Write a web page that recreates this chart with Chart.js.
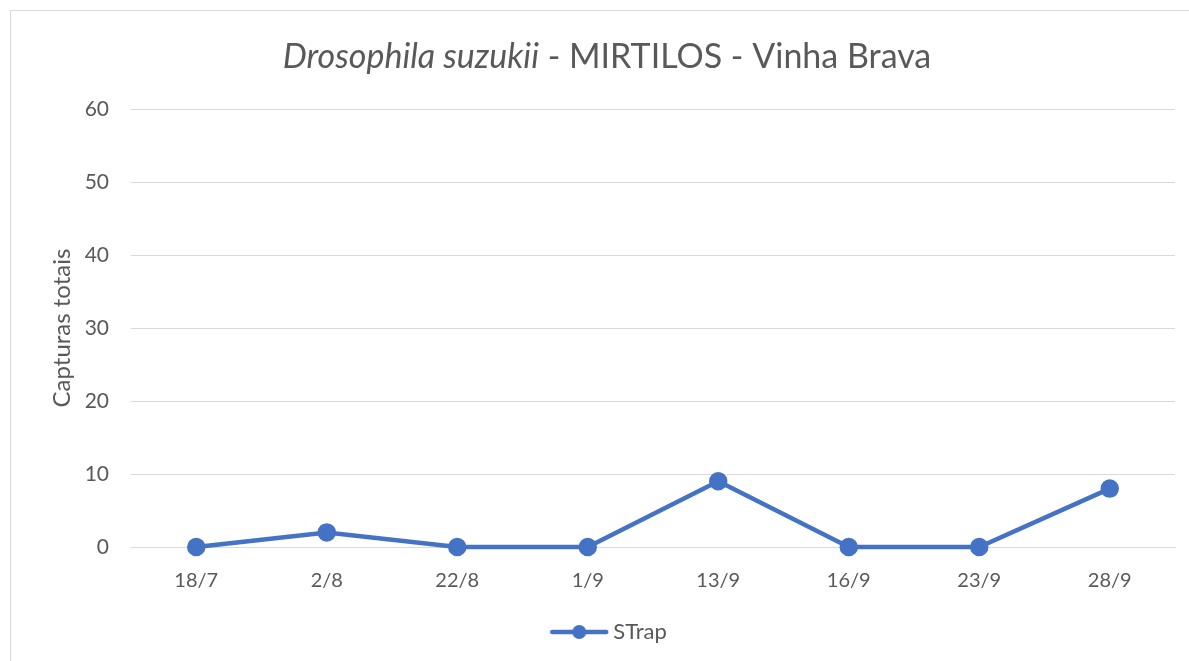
<!DOCTYPE html>
<html><head><meta charset="utf-8">
<script src="https://cdn.jsdelivr.net/npm/chart.js@4/dist/chart.umd.min.js"></script>
<style>
html,body{margin:0;padding:0;background:#fff;}
#wrap{position:relative;width:1189px;height:661px;overflow:hidden;}
#c{position:absolute;left:0;top:0;}
#frame{position:absolute;left:10px;top:10px;width:1300px;height:800px;border:1.5px solid #d9d9d9;pointer-events:none;}
</style></head>
<body><div id="wrap"><canvas id="c" width="1189" height="661"></canvas><div id="frame"></div></div>
<script>
const categories = ["18/7","2/8","22/8","1/9","13/9","16/9","23/9","28/9"];
const strapValues = [0,2,0,0,9,0,0,8];
const yTicks = [0,10,20,30,40,50,60];
const seriesName = "STrap";
const blue = "#4472C4";
const grey = "#595959";
const FONT = "Lato, 'Open Sans', sans-serif";

const legendImg = document.createElement('canvas');
legendImg.width = 108; legendImg.height = 16;
(function(){const g=legendImg.getContext('2d');const o=48;g.strokeStyle=blue;g.lineWidth=4.5;g.lineCap='round';
g.beginPath();g.moveTo(o+3,8);g.lineTo(o+57,8);g.stroke();g.fillStyle=blue;g.beginPath();g.arc(o+30,8,7,0,Math.PI*2);g.fill();})();

new Chart(document.getElementById('c'), {
  type:'line',
  data:{labels:categories,datasets:[{label:seriesName,data:strapValues,borderColor:blue,backgroundColor:blue,clip:false,
    borderWidth:4.5,pointRadius:7,pointHoverRadius:7,pointBackgroundColor:blue,pointBorderColor:blue,tension:0}]},
  options:{
    responsive:false,animation:false,
    layout:{padding:{left:0,right:14,top:109,bottom:8}},
    plugins:{
      title:{display:false},
      legend:{position:'bottom',labels:{usePointStyle:true,pointStyle:legendImg,pointStyleWidth:94,boxHeight:16,
        color:grey,font:{family:FONT,size:22},padding:10,
        generateLabels:(ch)=>[{text:seriesName,pointStyle:legendImg,fillStyle:blue,strokeStyle:blue,lineWidth:0,fontColor:grey,datasetIndex:0}]}},
      tooltip:{enabled:false}
    },
    scales:{
      x:{offset:true,grid:{display:false},border:{display:true,color:'#d9d9d9',width:1},
        ticks:{color:grey,font:{family:FONT,size:20},padding:14},
        afterFit:(s)=>{s.height=64;}},
      y:{min:0,max:60,afterBuildTicks:(s)=>{s.ticks=yTicks.map(v=>({value:v}));},
        grid:{color:'#d9d9d9',lineWidth:1,drawTicks:false},border:{display:false},
        ticks:{color:grey,font:{family:FONT,size:21},padding:22},
        title:{display:true,text:'Capturas totais',color:grey,font:{family:FONT,size:24},padding:{top:48,bottom:0}},
        afterFit:(s)=>{s.width=131;}}
    }
  },
  plugins:[{id:'titleDraw',afterDraw(ch){const ctx=ch.ctx;ctx.save();ctx.fillStyle=grey;ctx.textBaseline='middle';
    const y=57;const p1='Drosophila suzukii',p2=' - MIRTILOS - Vinha Brava';
    ctx.font="italic 34px "+FONT;const w1=ctx.measureText(p1).width;ctx.font="34px "+FONT;const w2=ctx.measureText(p2).width;
    let x=607-(w1+w2)/2;ctx.textAlign='left';ctx.font="italic 34px "+FONT;ctx.fillText(p1,x,y);ctx.font="34px "+FONT;ctx.fillText(p2,x+w1,y);ctx.restore();}}]
});
</script></body></html>
